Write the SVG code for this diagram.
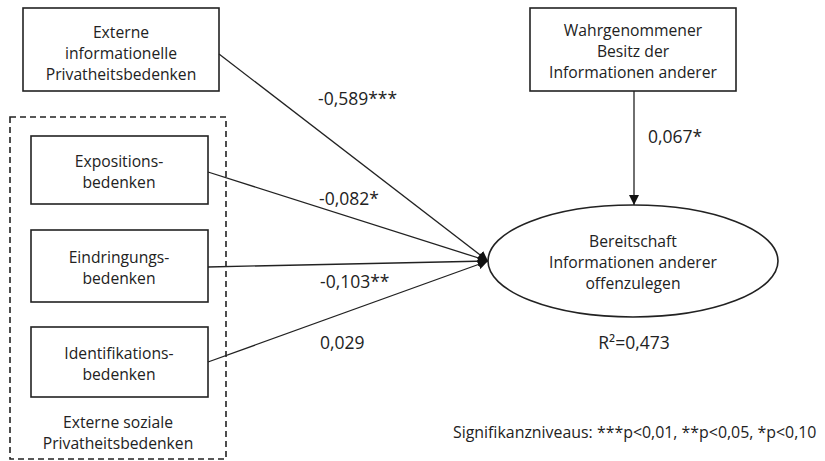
<svg xmlns="http://www.w3.org/2000/svg" width="825" height="461" viewBox="0 0 825 461">
<style>
text{font-family:"Open Sans","Liberation Sans",sans-serif;font-size:15.7px;fill:#222;text-anchor:middle}
.box{fill:#fff;stroke:#222;stroke-width:1.6}
.lbl{text-anchor:start;font-size:17.5px}
.note{text-anchor:start;font-size:15.9px}
.conn{stroke:#222;stroke-width:1.3;fill:none;marker-end:url(#ah)}
</style>
<defs>
<marker id="ah" viewBox="0 0 10 10" refX="10" refY="5" markerWidth="10" markerHeight="10" markerUnits="userSpaceOnUse" orient="auto">
<path d="M0,0 L10,5 L0,10 Z" fill="#111"/>
</marker>
</defs>
<rect width="825" height="461" fill="#fff"/>
<g id="group-social">
<rect x="10" y="117" width="216" height="342" fill="none" stroke="#222" stroke-width="1.6" stroke-dasharray="6,4"/>
<text x="118" y="428">Externe soziale</text>
<text x="118" y="449">Privatheitsbedenken</text>
</g>
<g id="node-extern-info">
<rect class="box" x="23" y="8" width="196" height="83"/>
<text x="121" y="38">Externe</text>
<text x="121" y="59">informationelle</text>
<text x="121" y="80">Privatheitsbedenken</text>
</g>
<g id="node-exposition">
<rect class="box" x="31" y="136" width="177" height="68"/>
<text x="119" y="167">Expositions-</text>
<text x="119" y="188">bedenken</text>
</g>
<g id="node-eindringung">
<rect class="box" x="31" y="230" width="177" height="72"/>
<text x="119" y="263">Eindringungs-</text>
<text x="119" y="284">bedenken</text>
</g>
<g id="node-identifikation">
<rect class="box" x="31" y="327" width="177" height="70"/>
<text x="119" y="359">Identifikations-</text>
<text x="119" y="380">bedenken</text>
</g>
<g id="node-besitz">
<rect class="box" x="530" y="8" width="206" height="83"/>
<text x="633" y="36">Wahrgenommener</text>
<text x="633" y="57">Besitz der</text>
<text x="633" y="78">Informationen anderer</text>
</g>
<g id="node-bereitschaft">
<ellipse cx="633" cy="261" rx="145" ry="56" fill="#fff" stroke="#222" stroke-width="1.6"/>
<text x="633" y="247">Bereitschaft</text>
<text x="633" y="268">Informationen anderer</text>
<text x="633" y="289">offenzulegen</text>
<text x="634" y="349" style="font-size:17.5px">R²=0,473</text>
</g>
<g id="connectors">
<line class="conn" x1="219" y1="54" x2="488" y2="261"/>
<line class="conn" x1="208" y1="172" x2="488" y2="261"/>
<line class="conn" x1="208" y1="267" x2="488" y2="261"/>
<line class="conn" x1="208" y1="362" x2="488" y2="261"/>
<line class="conn" x1="634" y1="91" x2="634" y2="205"/>
<text class="lbl" x="318" y="105">-0,589***</text>
<text class="lbl" x="319" y="205">-0,082*</text>
<text class="lbl" x="320" y="288">-0,103**</text>
<text class="lbl" x="320" y="349">0,029</text>
<text class="lbl" x="648" y="143">0,067*</text>
</g>
<text class="note" x="453" y="438">Signifikanzniveaus: ***p&lt;0,01, **p&lt;0,05, *p&lt;0,10</text>
</svg>
